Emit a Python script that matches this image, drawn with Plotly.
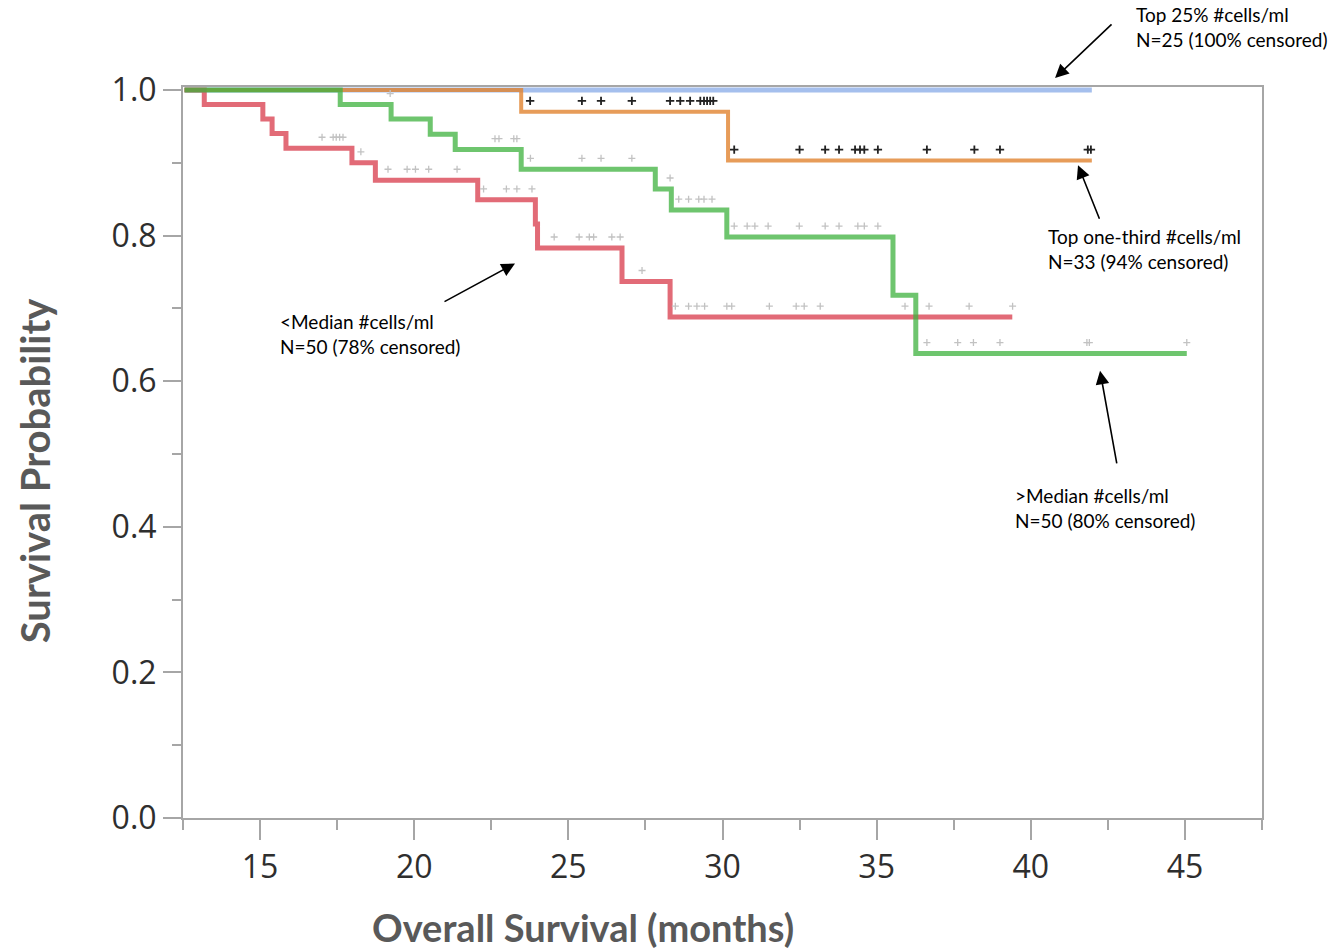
import plotly.graph_objects as go

# ---------------- data ----------------
start_time = 12.55

# <Median #cells/ml (red)
red_times = [13.19, 15.09, 15.39, 15.84, 17.98, 18.74, 22.06, 23.93, 24.0, 26.74, 28.3]
red_surv = [0.98, 0.96, 0.94, 0.92, 0.90, 0.876, 0.849, 0.816, 0.783, 0.737, 0.688]
red_end = 39.4
red_censor = [17.01, 17.37, 17.47, 17.58, 17.69, 18.27, 19.15, 19.77, 20.04, 20.47, 21.39,
              22.25, 22.99, 23.33, 23.82, 24.54, 25.35, 25.68, 25.82, 26.41, 26.68, 27.39,
              28.47, 28.9, 29.17, 29.42, 30.14, 30.3, 31.52, 32.39, 32.65, 33.17,
              35.92, 36.7, 38.0, 39.41]

# >Median #cells/ml (green)
green_times = [17.6, 19.25, 20.52, 21.33, 23.47, 27.82, 28.34, 30.14, 35.53, 36.27]
green_surv = [0.98, 0.96, 0.939, 0.918, 0.891, 0.864, 0.835, 0.798, 0.718, 0.638]
green_end = 45.06
green_censor = [19.22, 22.62, 22.75, 23.23, 23.33, 23.77, 25.44, 26.06, 27.06, 28.3, 28.58,
                28.9, 29.23, 29.4, 29.66, 30.38, 30.8, 31.05, 31.48, 32.49, 33.33, 33.78,
                34.39, 34.6, 35.04, 36.63, 37.63, 38.14, 39.0, 41.82, 41.9, 45.06]

# Top one-third #cells/ml (orange)
orange_times = [23.47, 30.18]
orange_surv = [0.97, 0.903]
orange_end = 41.98
orange_censor = [23.76, 25.44, 26.06, 27.06, 28.3, 28.63, 28.95, 29.28, 29.4, 29.5, 29.6,
                 29.7, 30.38, 32.5, 33.33, 33.78, 34.3, 34.46, 34.6, 35.04, 36.63, 38.17,
                 39.0, 41.85, 41.95]

# Top 25% #cells/ml (blue) - no events
blue_times = []
blue_surv = []
blue_end = 41.98

x_ticks = [15, 20, 25, 30, 35, 40, 45]
y_ticks = [0.0, 0.2, 0.4, 0.6, 0.8, 1.0]

# ---------------- helpers ----------------
def step_xy(times, surv, end):
    xs = [start_time] + list(times) + [end]
    ys = [1.0] + list(surv) + [surv[-1] if surv else 1.0]
    return xs, ys

def level_at(t, times, surv):
    lv = 1.0
    for ti, si in zip(times, surv):
        if ti <= t:
            lv = si
    return lv

CENSOR_LIFT = 0.015

RED = "rgb(221,82,96)"
GREEN = "rgb(62,178,62)"
ORANGE = "rgb(226,132,48)"
BLUE = "rgb(150,180,234)"
AXIS = "#a6a6a6"

fig = go.Figure()

groups = [
    ("Top 25% #cells/ml", blue_times, blue_surv, blue_end, BLUE, 5, 0.85),
    ("Top one-third #cells/ml", orange_times, orange_surv, orange_end, ORANGE, 4, 0.8),
    ("<Median #cells/ml", red_times, red_surv, red_end, RED, 5, 0.85),
    (">Median #cells/ml", green_times, green_surv, green_end, GREEN, 5, 0.75),
]
for name, t, s, e, col, w, op in groups:
    xs, ys = step_xy(t, s, e)
    fig.add_trace(go.Scatter(x=xs, y=ys, mode="lines", line=dict(color=col, width=w, shape="hv"),
                             opacity=op, name=name, showlegend=False, hoverinfo="skip"))

censor_sets = [
    (red_censor, red_times, red_surv, "#c2c2c2", 5, 1.3),
    (green_censor, green_times, green_surv, "#c2c2c2", 5, 1.3),
    (orange_censor, orange_times, orange_surv, "#222222", 6, 1.8),
]
for cens, t, s, col, size, lw in censor_sets:
    ys = [level_at(c, t, s) + CENSOR_LIFT for c in cens]
    fig.add_trace(go.Scatter(x=cens, y=ys, mode="markers",
                             marker=dict(symbol="cross-thin", size=size, line=dict(color=col, width=lw)),
                             showlegend=False, hoverinfo="skip"))

# ---------------- annotations ----------------
TXT = dict(family="Lato, Open Sans, sans-serif", size=19, color="#000000")
texts = [
    (1.0625, 1.118, "right", "Top 25% #cells/ml<br>N=25 (100% censored)"),
    (0.7998, 0.814, "left", "Top one-third #cells/ml<br>N=33 (94% censored)"),
    (0.088, 0.697, "left", "&lt;Median #cells/ml<br>N=50 (78% censored)"),
    (0.7692, 0.460, "left", ">Median #cells/ml<br>N=50 (80% censored)"),
]
for x, y, anch, t in texts:
    fig.add_annotation(x=x, y=y, xref="paper", yref="paper", text=t, showarrow=False,
                       xanchor=anch, yanchor="top", align="left", font=TXT)

arrows = [
    (0.8082, 1.0123, 58, -55),
    (0.8295, 0.8930, 22, 55),
    (0.3077, 0.7586, -72, 39),
    (0.8499, 0.6118, 17, 94),
]
for x, y, ax, ay in arrows:
    fig.add_annotation(x=x, y=y, xref="paper", yref="paper", text="", showarrow=True,
                       ax=ax, ay=ay, arrowhead=2, arrowsize=1.7, arrowwidth=1.6,
                       arrowcolor="#000000", standoff=0)

# axis titles (placed like the reference, which is not centred on the plot)
fig.add_annotation(x=0.3707, y=-0.149, xref="paper", yref="paper",
                   text="<b>Overall Survival (months)</b>", showarrow=False,
                   xanchor="center", yanchor="middle",
                   font=dict(family="Lato, sans-serif", size=38, color="#595959"))
fig.add_annotation(x=-0.137, y=0.476, xref="paper", yref="paper",
                   text="<b>Survival Probability</b>", showarrow=False, textangle=-90,
                   xanchor="center", yanchor="middle",
                   font=dict(family="Lato, sans-serif", size=40, color="#595959"))

fig.update_layout(
    width=1332, height=950,
    margin=dict(l=183, r=70, t=87, b=132, autoexpand=False),
    paper_bgcolor="white", plot_bgcolor="white",
    showlegend=False,
    xaxis=dict(
        range=[12.5, 47.5], tickvals=x_ticks, showgrid=False, zeroline=False,
        showline=True, linecolor=AXIS, linewidth=2, mirror=True,
        ticks="outside", ticklen=20, tickwidth=2, tickcolor=AXIS,
        minor=dict(dtick=2.5, tick0=0, ticks="outside", ticklen=10, tickwidth=2, tickcolor=AXIS),
        tickfont=dict(family="Open Sans, sans-serif", size=32, color="#2e2e2e"),
    ),
    yaxis=dict(
        range=[0, 1.004], tickvals=y_ticks, tickformat=".1f", showgrid=False, zeroline=False,
        showline=True, linecolor=AXIS, linewidth=2, mirror=True,
        ticks="outside", ticklen=18, tickwidth=2, tickcolor=AXIS,
        minor=dict(dtick=0.1, tick0=0, ticks="outside", ticklen=9, tickwidth=2, tickcolor=AXIS),
        tickfont=dict(family="Open Sans, sans-serif", size=32, color="#2e2e2e"),
    ),
)

fig.write_html("out.html")
